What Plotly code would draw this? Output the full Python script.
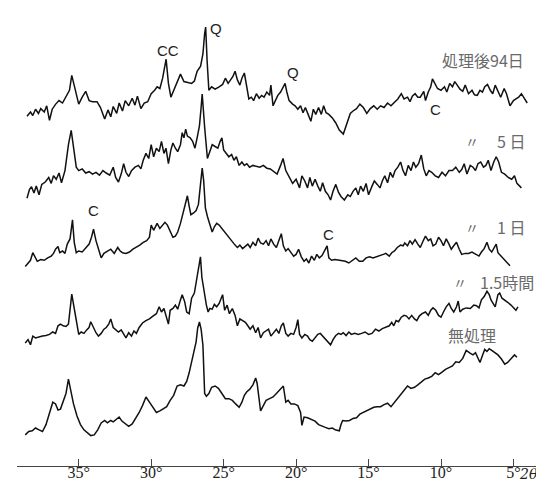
import plotly.graph_objects as go

# ---------------- data: 2θ (deg) and relative intensity for each pattern ----------------
tt_94d = [38.57,38.33,38.17,37.98,37.78,37.62,37.38,37.21,37.02,36.83,36.59,36.36,36.12,35.88,35.64,35.48,35.24,35.0,34.76,34.52,
          34.28,34.05,33.74,33.5,33.21,32.98,32.79,32.62,32.38,32.21,31.98,31.79,31.55,31.31,31.12,30.95,30.71,30.48,30.24,30.0,
          29.76,29.59,29.4,29.21,28.97,28.81,28.64,28.45,28.21,27.98,27.74,27.5,27.21,27.02,26.83,26.59,26.43,26.31,26.24,26.14,
          26.02,25.83,25.59,25.31,25.07,24.88,24.69,24.52,24.36,24.21,24.05,23.88,23.74,23.57,23.45,23.26,23.09,22.93,22.74,22.55,
          22.38,22.21,22.02,21.83,21.74,21.59,21.43,21.26,21.07,20.88,20.76,20.64,20.48,20.24,20.07,19.88,19.69,19.52,19.36,19.17,
          18.98,18.81,18.64,18.45,18.26,18.1,17.93,17.74,17.5,17.26,17.02,16.74,16.5,16.26,16.07,15.83,15.6,15.36,15.12,14.88,
          14.64,14.4,14.17,13.93,13.69,13.45,13.21,12.98,12.74,12.55,12.31,12.14,11.98,11.79,11.6,11.43,11.19,11.07,10.88,10.71,
          10.59,10.4,10.24,10.0,9.76,9.6,9.4,9.21,9.05,8.88,8.69,8.5,8.33,8.1,7.86,7.69,7.5,7.31,7.14,6.98,
          6.79,6.6,6.43,6.26,6.07,5.88,5.64,5.48,5.24,5.0,4.83,4.64,4.45,4.29,4.05]
int_94d = [16.8,21,17.5,23.8,19.6,24.4,21,27.2,12.7,23.8,28.9,32.4,30,35.8,42.7,57.6,42.7,28.9,35.8,41.7,
           32.4,31.3,31.3,25.5,14.1,23.1,16.2,26.5,19.6,30,22,32.4,27.2,34.8,27.9,36.9,24.4,30,31.3,39.3,
           42.7,46.2,44.5,54.8,73.8,49.6,35.8,42.7,52,58.9,51.4,50.7,49.6,52,61.7,66.9,79,99.7,105.9,72,
           42.7,46.2,43.8,46.2,48.6,54.8,49.6,53.1,56.5,61.7,53.1,47.9,54.8,60,49.6,34.1,35.8,32.4,39.3,34.8,
           37.6,35.8,41,37.6,47.9,27.2,32.4,37.6,41,46.2,49.6,41,32.4,28.9,27.2,23.8,27.2,20.3,25.5,18.6,
           11.7,23.8,18.6,25.5,18.6,27.2,20.3,18.6,15.1,10,3,-1.1,8.2,19.6,22,24.4,28.9,25.5,19.6,24.4,
           27.2,23.8,27.2,25.5,30,27.2,30.7,34.1,39.3,34.1,35.8,31.3,36.9,39.3,35.8,35.8,41.7,32.4,41,46.2,
           54.1,47.9,44.5,42.7,46.2,41,49.6,46.2,51.4,47.9,43.8,41.7,47.9,39.3,42.7,38.2,37.6,42.7,41,46.2,
           48.6,42.7,39.3,47.9,41,35.8,44.5,39.3,27.2,32.4,34.1,35.8,39.3,35.8,30]

tt_5d = [38.57,38.4,38.26,38.09,37.93,37.74,37.55,37.31,37.07,36.9,36.74,36.55,36.36,36.19,35.95,35.71,35.52,35.36,35.17,35.0,
         34.76,34.52,34.28,34.05,33.81,33.57,33.33,33.1,32.86,32.62,32.45,32.26,32.07,31.9,31.74,31.55,31.36,31.12,30.88,30.71,
         30.55,30.36,30.17,30.0,29.83,29.64,29.45,29.29,29.12,28.98,28.81,28.64,28.5,28.33,28.17,27.98,27.86,27.74,27.62,27.5,
         27.31,27.14,26.98,26.83,26.67,26.55,26.48,26.31,26.12,25.95,25.79,25.59,25.4,25.24,25.12,25.0,24.83,24.64,24.45,24.29,
         24.12,23.93,23.74,23.57,23.4,23.21,22.98,22.74,22.5,22.26,22.02,21.78,21.55,21.31,21.07,20.9,20.71,20.48,20.24,20.0,
         19.76,19.6,19.4,19.21,19.05,18.88,18.69,18.5,18.33,18.17,17.98,17.79,17.62,17.45,17.26,17.07,16.9,16.67,16.43,16.26,
         16.07,15.88,15.71,15.55,15.36,15.17,15.0,14.76,14.6,14.4,14.21,14.05,13.88,13.69,13.5,13.33,13.17,12.98,12.79,12.62,
         12.45,12.26,12.07,11.9,11.74,11.55,11.36,11.19,11.02,10.83,10.64,10.4,10.17,9.93,9.69,9.45,9.21,8.98,8.74,8.57,
         8.4,8.21,7.98,7.79,7.62,7.45,7.26,7.07,6.9,6.74,6.55,6.36,6.19,6.02,5.83,5.6,5.36,5.12,4.93,4.76,4.6,4.45]
int_5d = [4.8,13.4,16.2,10,16.9,8.2,18.6,21,25.5,19.6,27.2,23.8,30,20.3,32.4,58.3,72.7,54.8,35.8,32.4,
          34.1,30,31.3,28.9,30.7,27.9,32.4,30,27.9,35.8,25.5,21,28.9,39.3,30.7,26.5,32.4,35.8,37.6,34.1,
          42.7,49.6,44.5,58.3,46.2,54.8,51.4,61.7,49.6,54.8,39.3,53.1,60,54.8,51.4,58.3,70.3,65.2,73.8,66.9,
          65.2,61.7,54.8,65.2,77.2,96.2,109,75.5,44.5,51.4,58.3,56.5,54.8,61.7,65.2,53.1,49.6,46.2,48.6,42.7,
          46.2,37.6,41,37.6,39.3,35.8,37.6,36.9,35.8,37.6,34.8,34.1,31.3,28.9,37.6,44.5,32.4,25.5,19.6,23.8,
          15.1,27.2,22,15.1,25.5,16.9,23.8,16.9,11.7,20.3,11.7,8.2,3,11.7,18.6,10.6,6.5,3,8.2,6.5,
          11.7,15.1,8.2,16.9,11.7,19.6,8.2,16.9,22,18.6,15.1,22,27.2,20.3,30.7,25.5,32.4,35.8,41,32.4,
          27.2,37.6,32.4,41,35.8,39.3,47.9,34.1,27.2,32.4,30.7,27.2,25.5,30.7,27.2,32.4,32.4,35.8,30.7,33.4,
          39.3,28.9,37.6,35.8,32.4,39.3,41,35.8,37.6,42.7,32.4,41,46.2,41,30.7,28.9,25.5,23.8,27.2,19.6,16.9,15.1]

tt_1d = [38.69,38.5,38.33,38.17,38.02,37.86,37.62,37.38,37.14,36.9,36.74,36.6,36.43,36.31,36.12,35.95,35.79,35.6,35.43,35.31,
         35.17,35.0,34.76,34.52,34.28,34.12,33.98,33.81,33.64,33.45,33.26,33.02,32.79,32.55,32.31,32.14,31.98,31.74,31.5,31.26,
         31.02,30.79,30.55,30.31,30.12,30.0,29.83,29.59,29.4,29.21,29.05,28.88,28.69,28.5,28.33,28.17,27.98,27.79,27.62,27.5,
         27.38,27.26,27.07,26.9,26.74,26.6,26.48,26.38,26.26,26.12,25.95,25.79,25.64,25.48,25.31,25.12,24.93,24.76,24.6,24.4,
         24.21,24.05,23.88,23.69,23.5,23.33,23.17,22.98,22.79,22.62,22.45,22.26,22.07,21.9,21.74,21.55,21.36,21.19,21.02,20.88,
         20.71,20.55,20.36,20.17,20.0,19.83,19.64,19.45,19.29,19.12,18.93,18.74,18.57,18.4,18.21,18.02,17.86,17.74,17.55,17.31,
         17.07,16.83,16.6,16.36,16.12,15.88,15.64,15.4,15.17,14.93,14.69,14.45,14.21,13.98,13.81,13.57,13.4,13.21,13.02,12.79,
         12.62,12.5,12.31,12.14,11.98,11.79,11.6,11.43,11.26,11.07,10.88,10.71,10.55,10.36,10.17,10.0,9.83,9.64,9.45,9.29,
         9.12,8.93,8.74,8.57,8.33,8.1,7.86,7.62,7.38,7.21,7.02,6.83,6.67,6.5,6.31,6.19,6.07,5.88,5.64,5.4,5.24]
int_1d = [6.5,9.3,12.7,20.3,16.2,11.7,13.4,12.7,15.1,16.9,19.6,23.8,26.5,20.3,22,19.6,28.9,34.1,53.1,30.7,
          20.3,22,21,25.5,28.9,35.8,43.8,32.4,23.8,15.1,19.6,22,23.8,19.6,25.5,22,20.3,19.6,21,23.8,
          25.5,27.9,30.7,32.4,35.8,47.9,42.7,49.6,44.5,47.9,50.7,47.9,41,35.8,36.9,41,49.6,61.7,69.3,77.2,
          66.9,58.3,60,62.4,68.6,85.9,104.8,92.8,65.2,56.5,47.9,41,46.2,49.6,47.9,44.5,41,37.6,34.1,30.7,
          27.9,25.5,27.9,24.4,27.2,28.9,25.5,30.7,27.2,34.8,30,28.9,32.4,27.2,34.1,28.9,25.5,32.4,39.3,27.2,
          22,24.4,21,16.9,18.6,23.8,16.2,11.7,14.1,10,16.9,12.7,18.6,15.1,17.5,22,27.2,15.1,12.7,13.4,
          12.7,12.4,11.7,10,12.7,15.1,11.7,11.7,15.1,16.2,15.1,16.2,16.9,18.6,19.6,16.9,20.3,22,25.5,27.9,
          27.2,30,27.2,32.4,28.9,33.4,28.9,25.5,31.3,36.9,32.4,34.1,27.2,28.9,35.8,32.4,27.2,34.1,28.9,23.8,
          27.2,30.7,23.8,18.6,19.6,19.6,21,18.6,16.9,21,24.4,30.7,23.8,21,25.5,28.9,20.3,17.5,13.4,10,7.2]

tt_1_5h = [38.69,38.5,38.33,38.17,37.98,37.74,37.5,37.26,37.02,36.79,36.6,36.43,36.26,36.07,35.88,35.71,35.6,35.48,35.31,35.17,
           35.0,34.83,34.64,34.45,34.29,34.17,33.98,33.81,33.64,33.45,33.26,33.1,32.93,32.79,32.62,32.45,32.26,32.07,31.9,31.74,
           31.55,31.36,31.19,31.02,30.83,30.6,30.36,30.12,29.88,29.64,29.45,29.29,29.12,28.93,28.81,28.69,28.5,28.33,28.17,27.98,
           27.86,27.69,27.55,27.38,27.21,27.02,26.83,26.67,26.6,26.5,26.36,26.19,26.07,25.95,25.79,25.64,25.48,25.31,25.17,25.07,
           24.93,24.76,24.6,24.4,24.21,24.05,23.88,23.69,23.5,23.33,23.17,22.98,22.79,22.62,22.45,22.26,22.07,21.9,21.74,21.55,
           21.36,21.19,21.02,20.88,20.71,20.55,20.36,20.17,20.0,19.88,19.76,19.6,19.4,19.21,19.05,18.88,18.69,18.5,18.33,18.17,
           17.98,17.79,17.62,17.45,17.26,17.07,16.9,16.74,16.55,16.36,16.19,15.95,15.71,15.48,15.24,15.0,14.76,14.52,14.29,14.05,
           13.81,13.57,13.4,13.26,13.1,12.93,12.74,12.55,12.38,12.21,12.02,11.83,11.67,11.5,11.31,11.07,10.88,10.71,10.55,10.36,
           10.17,10.0,9.83,9.64,9.45,9.29,9.12,8.93,8.81,8.69,8.5,8.26,7.98,7.74,7.55,7.38,7.21,7.02,6.83,6.67,
           6.55,6.43,6.26,6.07,5.95,5.79,5.6,5.4,5.17,5.0,4.83,4.69]
int_1_5h = [5,8.4,3.2,11.9,10.1,11.2,11.9,12.5,13.6,16,14.6,22.2,23.9,22.2,21.5,23.9,36,53.9,39.5,25.7,
            13.6,16,14.6,18.1,20.5,26.3,20.5,15.3,11.9,14.6,18.8,20.5,23.9,29.1,20.5,18.8,16,18.1,13.6,10.1,
            15.3,11.9,17,14.6,20.5,25,27.4,29.1,31.9,34.3,41.2,36,39.5,30.8,23.9,37.7,39.5,42.9,38.8,48.1,
            53.3,46.4,36,34.3,49.8,55,70.5,84.3,91.2,70.5,56.7,42.9,36,39.5,38.8,43.6,41.2,44.6,49.8,53.3,
            37.7,42.9,34.3,39.5,32.6,22.2,29.1,27.4,25.7,22.2,18.8,22.2,15.3,20.5,10.1,15.3,17,18.8,11.9,15.3,
            18.8,14.6,22.2,25,14.6,11.9,14.6,13.6,20.5,28.4,13.6,10.1,13.6,11.9,8.4,6.7,10.1,13.6,14.6,11.9,
            8.4,5,3.2,8.4,12.5,14.6,13.6,15.3,12.5,16,13.6,14.6,13.6,14.6,16,13.6,14.6,18.8,17,19.4,
            20.5,22.2,25.7,22.2,27.4,26.3,30.8,32.6,31.9,29.1,32.6,29.1,27.4,31.9,34.3,36,32.6,37.7,40.1,37.7,
            32.6,30.8,36,41.2,44.6,39.5,36,41.2,47,36,38.8,40.1,39.5,42.9,42.2,40.1,48.1,51.5,56.7,53.3,
            48.1,44.6,41.2,53.3,55,49.8,48.1,45.7,42.9,40.1,37.7,41.2]

tt_none = [38.69,38.45,38.21,37.98,37.74,37.5,37.26,37.02,36.79,36.6,36.43,36.26,36.07,35.88,35.71,35.55,35.36,35.12,34.88,34.64,
           34.4,34.17,33.93,33.69,33.45,33.21,33.02,32.79,32.62,32.38,32.21,32.02,31.79,31.55,31.31,31.07,30.83,30.6,30.36,30.12,
           29.88,29.64,29.4,29.17,28.93,28.69,28.45,28.21,27.98,27.74,27.55,27.38,27.21,27.02,26.9,26.79,26.67,26.55,26.43,26.31,
           26.19,26.02,25.83,25.59,25.36,25.12,24.88,24.64,24.4,24.17,23.93,23.74,23.57,23.4,23.21,22.98,22.79,22.69,22.55,22.45,
           22.26,22.07,21.83,21.59,21.36,21.07,20.88,20.71,20.55,20.36,20.12,19.88,19.69,19.6,19.45,19.21,18.98,18.69,18.45,18.21,
           17.98,17.74,17.5,17.26,17.02,16.9,16.79,16.55,16.31,16.07,15.83,15.6,15.36,15.12,14.88,14.64,14.4,14.17,13.93,13.69,
           13.45,13.21,12.98,12.74,12.5,12.31,12.07,11.83,11.6,11.36,11.12,10.88,10.64,10.4,10.17,9.93,9.69,9.45,9.21,8.98,
           8.74,8.5,8.26,8.02,7.79,7.62,7.45,7.31,7.14,6.98,6.83,6.67,6.5,6.31,6.07,5.83,5.6,5.4,5.24,5.07,
           4.93,4.76]
int_none = [-1.9,1.5,2.2,5,3.2,1.5,8.4,20.5,30.8,29.1,22.9,23.9,30.8,39.5,53.9,42.9,29.1,17,8.4,3.2,
            -0.2,-2.6,-1.9,3.2,10.1,12.5,10.1,12.5,11.2,14.6,16,11.9,9.1,6.7,9.1,14.6,20.5,27.4,36,30.8,
            25.7,20.5,22.2,23.9,26.3,32.6,37.7,47,48.1,47,51.5,60.2,70.5,80.9,91.2,105,111,103.3,87.8,39.5,
            36.7,39.5,45.7,47,44.6,39.5,34.3,34.3,32.6,29.1,25.7,30.8,37.7,41.2,43.6,48.1,55,49.8,32.6,22.2,
            27.4,32.6,34.3,36,39.5,44.6,47,30.8,32.6,29.1,29.1,27.4,20.5,7.7,16,15.3,13.6,11.9,8.4,6.7,
            5.6,4.3,5,2.9,2.2,8.4,12.5,11.9,12.5,14.6,15.3,18.8,20.5,22.9,23.9,25.7,26.3,26.3,28.4,29.8,
            26.3,30.8,34.3,38.8,43.6,47,44.6,45.7,48.1,51.5,53.9,55,56.7,60.2,58.4,60.8,63.6,65.3,67,71.2,
            70.5,74.6,82.6,80.2,78.1,80.2,74,70.5,77.4,83.6,81.5,84.3,82.6,80.2,78.1,74,68.8,70.5,73.3,75.7,
            78.1,75.7]

sample_labels = ["処理後94日", "5 日", "1 日", "1.5時間", "無処理"]
ditto_mark = "〃"
tick_angles = [35, 30, 25, 20, 15, 10, 5]
tick_texts = ["35°", "30°", "25°", "20°", "15°", "10°", "5°"]
axis_title = "2θ"

# vertical stacking offsets (layout)
offsets = [333, 263, 193, 118, 33]

patterns = [(tt_94d, int_94d), (tt_5d, int_5d), (tt_1d, int_1d), (tt_1_5h, int_1_5h), (tt_none, int_none)]

fig = go.Figure()
for (tt, it), off in zip(patterns, offsets):
    fig.add_trace(go.Scatter(x=tt, y=[v + off for v in it], mode="lines",
                             line=dict(color="#111111", width=1.5), showlegend=False,
                             hoverinfo="skip"))

CJK = "Noto Sans CJK JP"
label_color = "#6a6a6a"
label_pos = [(4.13, 406), (4.06, 325), (4.06, 239), (3.44, 184), (6.06, 131)]
for txt, (x, y) in zip(sample_labels, label_pos):
    fig.add_annotation(x=x, y=y, text=txt, showarrow=False, xanchor="right",
                       font=dict(family=CJK, size=16, color=label_color))
for x, y in [(7.86, 325), (7.86, 239), (8.69, 184)]:
    fig.add_annotation(x=x, y=y, text=ditto_mark, showarrow=False,
                       font=dict(family=CJK, size=14, color=label_color))

peak_marks = [("CC", 28.85, 416), ("Q", 25.55, 438), ("Q", 20.23, 394), ("C", 10.41, 357),
              ("C", 34.0, 256), ("C", 17.79, 232)]
for txt, x, y in peak_marks:
    fig.add_annotation(x=x, y=y, text=txt, showarrow=False,
                       font=dict(family="Liberation Sans, Arial", size=15, color="#222222"))

fig.add_annotation(x=0.975, xref="paper", y=-0.018, yref="paper", yanchor="middle", xanchor="right",
                   text=axis_title, showarrow=False, borderpad=0,
                   font=dict(family="DejaVu Serif", size=14, color="#222222", style="italic"))

fig.update_layout(
    width=544, height=481,
    margin=dict(l=9, r=0, t=0, b=23),
    paper_bgcolor="white", plot_bgcolor="white",
    xaxis=dict(range=[39.26, 2.34], showgrid=False, zeroline=False,
               showline=True, linecolor="#444444", linewidth=1.1,
               ticks="inside", ticklen=7, tickcolor="#444444", tickwidth=1,
               tickvals=tick_angles, ticktext=tick_texts, ticklabelstandoff=-8,
               tickfont=dict(family="Liberation Serif", size=16, color="#222222"),
               automargin=False),
    yaxis=dict(range=[0, 458], visible=False, automargin=False),
)

fig.write_html("out.html")
